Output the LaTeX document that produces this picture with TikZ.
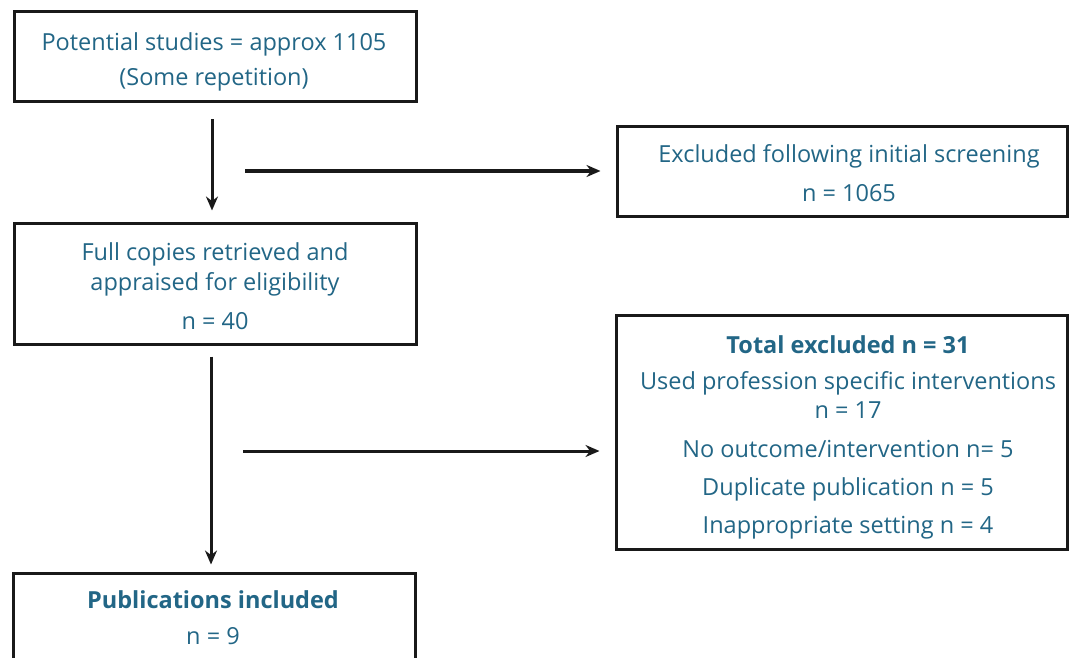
\documentclass[tikz,border=0pt]{standalone}
\usepackage{fontspec}
\setmainfont{Open Sans}
\usetikzlibrary{arrows.meta}
\definecolor{txt}{RGB}{34,102,134}
\definecolor{ln}{RGB}{25,25,25}
\begin{document}
\begin{tikzpicture}[x=1pt,y=-1pt,
  box/.style={draw=ln, line width=3pt, inner sep=0pt},
  lbl/.style={text=txt, font=\fontsize{23.5}{28}\selectfont, anchor=base, inner sep=0pt},
  blbl/.style={lbl, font=\fontsize{23.5}{28}\selectfont\bfseries},
  arr/.style={draw=ln, line width=3pt, -{Stealth[length=14pt,width=12pt]}}]
\useasboundingbox[fill=white] (0,0) rectangle (1071,658);
% boxes
\node[box, minimum width=402pt, minimum height=90pt] (b1) at (215,57) {};
\node[box, minimum width=450pt, minimum height=89pt] (b2) at (842,171.5) {};
\node[box, minimum width=402pt, minimum height=121pt] (b3) at (215,283.5) {};
\node[box, minimum width=451pt, minimum height=234pt] (b4) at (841.5,432.5) {};
\node[box, minimum width=402pt, minimum height=127pt] (b5) at (214,636.5) {};
% texts
\node[lbl] (t1a) at (214,51) {Potential studies = approx 1105};
\node[lbl] (t1b) at (214,86) {(Some repetition)};
\node[lbl] (t2a) at (849,163) {Excluded following initial screening};
\node[lbl] (t2b) at (849,201) {n = 1065};
\node[lbl] (t3a) at (215,260) {Full copies retrieved and};
\node[lbl] (t3b) at (215,290) {appraised for eligibility};
\node[lbl] (t3c) at (215,329) {n = 40};
\node[blbl] (t4a) at (848,353) {Total excluded n = 31};
\node[lbl] (t4b) at (848,389) {Used profession specific interventions};
\node[lbl] (t4c) at (848,418) {n = 17};
\node[lbl] (t4d) at (848,457) {No outcome/intervention n= 5};
\node[lbl] (t4e) at (848,495) {Duplicate publication n = 5};
\node[lbl] (t4f) at (848,533) {Inappropriate setting n = 4};
\node[blbl] (t5a) at (213,608) {Publications included};
\node[lbl] (t5b) at (213,644) {n = 9};
% connectors
\coordinate (v1) at (212,0);
\coordinate (v2) at (211,0);
\coordinate (h1) at (245,171);
\coordinate (h2) at (243,451);
\draw[arr, shorten <=16pt, shorten >=11pt] (b1.south -| v1) -- (b3.north -| v1);
\draw[arr, shorten >=15pt] (h1) -- (b2.west |- h1);
\draw[arr, shorten <=11pt, shorten >=7pt] (b3.south -| v2) -- (b5.north -| v2);
\draw[arr, shorten >=15pt] (h2) -- (b4.west |- h2);
\end{tikzpicture}
\end{document}
